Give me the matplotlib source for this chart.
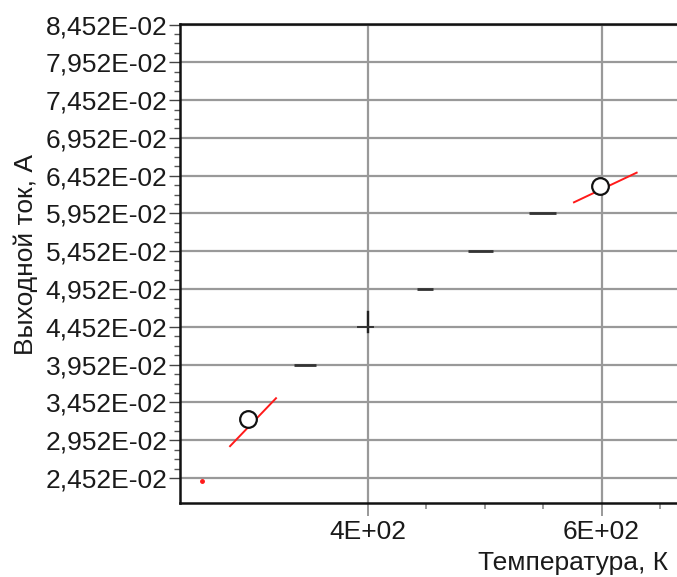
import matplotlib
matplotlib.use("Agg")
import matplotlib.pyplot as plt
from matplotlib.ticker import FixedLocator, FuncFormatter

plt.rcParams['font.family'] = ['Liberation Sans', 'DejaVu Sans']

# --- data ---
y_ticks = [2.452e-2, 2.952e-2, 3.452e-2, 3.952e-2, 4.452e-2, 4.952e-2,
           5.452e-2, 5.952e-2, 6.452e-2, 6.952e-2, 7.452e-2, 7.952e-2, 8.452e-2]
x_ticks = [400, 600]
x_minor = [450, 500, 550, 650]

# short horizontal dashes (start T, end T, current)
dash_x0 = [337, 442, 486, 538]
dash_x1 = [356, 456, 507, 561]
dash_y = [3.952e-2, 4.952e-2, 5.452e-2, 5.952e-2]

# vertical mark at 400 K
vmark_x = [400, 400]
vmark_y = [4.379e-2, 4.643e-2]
hmark_x = [391.6, 404.3]
hmark_y = [4.452e-2, 4.452e-2]

# open circle points
circ_x = [298, 599]
circ_y = [3.227e-2, 6.311e-2]

# red tangent lines
red1_x = [282.3, 321.6]
red1_y = [2.874e-2, 3.508e-2]
red2_x = [576.4, 630.0]
red2_y = [6.100e-2, 6.492e-2]
# red dot
dot_x = [258.4]
dot_y = [2.412e-2]

W, H = 677, 577
FS = 19
fig = plt.figure(figsize=(W / 100, H / 100), dpi=100)
ax = fig.add_axes([180 / W, (H - 503) / H, 1 - 180 / W, (503 - 24) / H])

ax.set_xlim(239.5, 664.5)
ax.set_ylim(2.122e-2, 8.459e-2)

ax.yaxis.set_major_locator(FixedLocator(y_ticks))
minor_y = []
for v in y_ticks[:-1]:
    for k in range(1, 4):
        minor_y.append(v + k * 0.125e-2)
ax.yaxis.set_minor_locator(FixedLocator(minor_y))
ax.yaxis.set_major_formatter(FuncFormatter(lambda v, p: ("%.3fE-02" % (v * 100)).replace('.', ',')))

ax.xaxis.set_major_locator(FixedLocator(x_ticks))
ax.xaxis.set_minor_locator(FixedLocator(x_minor))
ax.xaxis.set_major_formatter(FuncFormatter(lambda v, p: "%dE+02" % round(v / 100)))

ax.grid(True, which='major', color='#999999', linewidth=1.6)
ax.set_axisbelow(True)

for s in ['left', 'bottom', 'top']:
    ax.spines[s].set_color('#111111')
    ax.spines[s].set_linewidth(1.8)
ax.spines['right'].set_visible(False)

ax.tick_params(axis='y', which='major', direction='out', length=8, width=1.0,
               color='#444444', pad=1, labelsize=FS, labelcolor='#1a1a1a')
ax.tick_params(axis='y', which='minor', direction='out', length=4, width=1.0, color='#555555')
ax.tick_params(axis='x', which='major', direction='out', length=9, width=1.2,
               color='#888888', pad=3, labelsize=FS, labelcolor='#1a1a1a')
ax.tick_params(axis='x', which='minor', direction='out', length=4, width=1.2, color='#888888')

# marks
for x0, x1, y in zip(dash_x0, dash_x1, dash_y):
    ax.plot([x0, x1], [y, y], color='#333333', linewidth=2.0, solid_capstyle='butt', zorder=3)
ax.plot(vmark_x, vmark_y, color='#222222', linewidth=1.7, zorder=3)
ax.plot(hmark_x, hmark_y, color='#333333', linewidth=1.4, zorder=3)

ax.plot(red1_x, red1_y, color='#ff1a1a', linewidth=1.4, zorder=4)
ax.plot(red2_x, red2_y, color='#ff1a1a', linewidth=1.4, zorder=4)
ax.plot(dot_x, dot_y, 'o', color='#ff1a1a', markersize=2.5, zorder=4)

ax.plot(circ_x, circ_y, 'o', markersize=12, markerfacecolor='white',
        markeredgecolor='#111111', markeredgewidth=1.6, linestyle='none', zorder=5)

fig.text(668 / W, 1 - 563 / H, 'Температура, К', ha='right', va='center',
         fontsize=FS, color='#1a1a1a')
fig.text(26 / W, 1 - 254 / H, 'Выходной ток, А', ha='center', va='center',
         rotation=90, fontsize=FS, color='#1a1a1a')

fig.savefig('out.png', dpi=100)
